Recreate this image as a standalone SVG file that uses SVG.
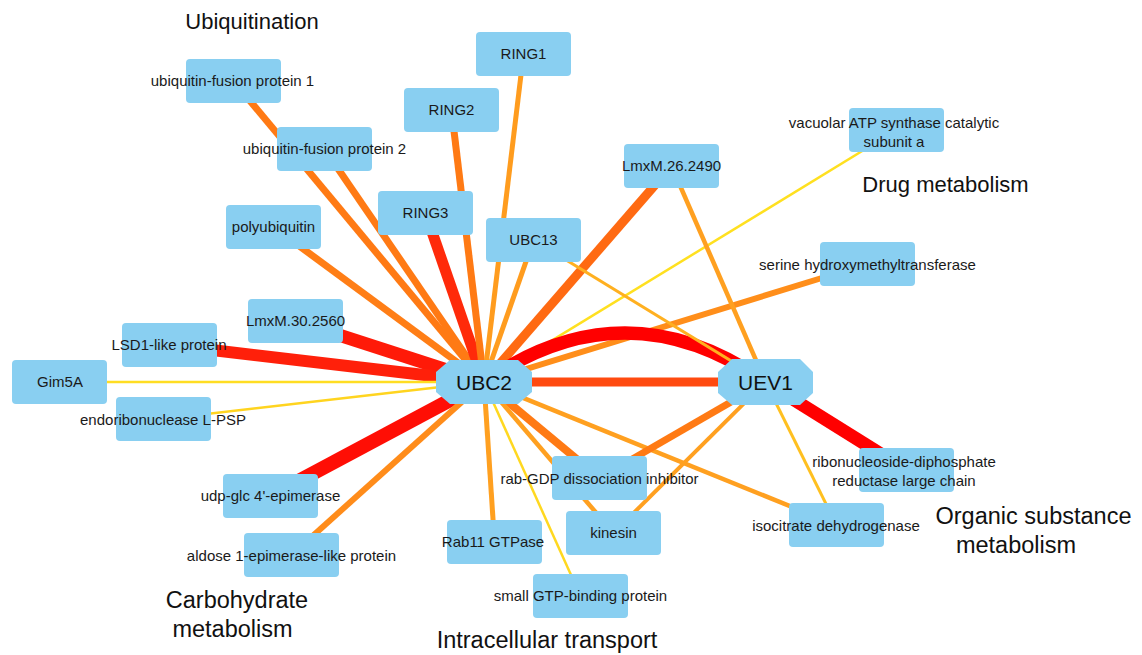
<svg xmlns="http://www.w3.org/2000/svg" width="1142" height="655" viewBox="0 0 1142 655">
  <style>
    .node rect, .node polygon { fill: #89CFF1; stroke: none; }
    .lbl { font-family: "Liberation Sans", Arial, sans-serif; font-size: 15px; fill: #1a1a1a; text-anchor: middle; }
    .hub { font-family: "Liberation Sans", Arial, sans-serif; font-size: 21px; fill: #111; text-anchor: middle; }
    .cat { font-family: "Liberation Sans", Arial, sans-serif; font-size: 23.5px; fill: #111; text-anchor: middle; }
    .cat.sm { font-size: 22px; }
    #edges line, #edges path { fill: none; stroke-linecap: butt; }
  </style>
  <rect width="1142" height="655" fill="#ffffff"/>

  <!-- interaction edges, drawn below the nodes -->
  <g id="edges">
    <!-- UBC2 partners -->
    <line x1="484" y1="382" x2="233.5" y2="81" stroke="#FF7A14" stroke-width="7"/>
    <line x1="484" y1="382" x2="324.5" y2="149" stroke="#FF7A14" stroke-width="7"/>
    <line x1="484" y1="382" x2="273.5" y2="227" stroke="#FF7E16" stroke-width="7"/>
    <line x1="484" y1="382" x2="425.5" y2="213" stroke="#FF2A0A" stroke-width="11"/>
    <line x1="484" y1="382" x2="451.5" y2="110" stroke="#FF7A14" stroke-width="7"/>
    <line x1="484" y1="382" x2="523.5" y2="54" stroke="#FF9C1E" stroke-width="5"/>
    <line x1="484" y1="382" x2="533.5" y2="240" stroke="#FF9C1E" stroke-width="5"/>
    <line x1="484" y1="382" x2="671.5" y2="166" stroke="#FF6A12" stroke-width="9"/>
    <line x1="484" y1="382" x2="896.5" y2="130" stroke="#FFE020" stroke-width="2.5"/>
    <line x1="484" y1="382" x2="867.5" y2="264" stroke="#FF8E1A" stroke-width="6"/>
    <line x1="484" y1="382" x2="295.5" y2="321" stroke="#FF1A08" stroke-width="13"/>
    <line x1="484" y1="382" x2="169.5" y2="345" stroke="#FF200A" stroke-width="12"/>
    <line x1="484" y1="382" x2="59.5" y2="382" stroke="#FFDD22" stroke-width="2.5"/>
    <line x1="484" y1="382" x2="163.5" y2="419" stroke="#FFD41F" stroke-width="2.5"/>
    <line x1="484" y1="382" x2="270.5" y2="496" stroke="#FF0E05" stroke-width="14"/>
    <line x1="484" y1="382" x2="291.5" y2="555" stroke="#FF8C1A" stroke-width="6"/>
    <line x1="484" y1="382" x2="494.5" y2="542" stroke="#FFA020" stroke-width="5"/>
    <line x1="484" y1="382" x2="580.5" y2="596" stroke="#FFD820" stroke-width="2.5"/>
    <line x1="484" y1="382" x2="599.5" y2="478" stroke="#FF7A14" stroke-width="8"/>
    <line x1="484" y1="382" x2="613.5" y2="533" stroke="#FFA020" stroke-width="4.5"/>
    <line x1="484" y1="382" x2="836.5" y2="525" stroke="#FFA020" stroke-width="4.5"/>
    <line x1="484" y1="382" x2="765.5" y2="382" stroke="#FF4A10" stroke-width="9"/>
    <path d="M484,382 Q625,284 765.5,382" stroke="#FF0000" stroke-width="13"/>
    <!-- UEV1 partners -->
    <line x1="765.5" y1="382" x2="671.5" y2="166" stroke="#FFA020" stroke-width="4.5"/>
    <line x1="765.5" y1="382" x2="533.5" y2="240" stroke="#FFB020" stroke-width="3"/>
    <line x1="765.5" y1="382" x2="906.5" y2="470" stroke="#FF0000" stroke-width="13"/>
    <line x1="765.5" y1="382" x2="836.5" y2="525" stroke="#FFC020" stroke-width="3"/>
    <line x1="765.5" y1="382" x2="599.5" y2="478" stroke="#FF7A14" stroke-width="7"/>
    <line x1="765.5" y1="382" x2="613.5" y2="533" stroke="#FFA020" stroke-width="4"/>
  </g>

  <!-- protein nodes -->
  <g id="n-uf1" class="node"><rect x="186" y="59" width="95" height="44" rx="4"/><text class="lbl" x="232.5" y="86">ubiquitin-fusion protein 1</text></g>
  <g id="n-uf2" class="node"><rect x="277" y="127" width="95" height="44" rx="4"/><text class="lbl" x="324.5" y="154">ubiquitin-fusion protein 2</text></g>
  <g id="n-polyub" class="node"><rect x="226" y="205" width="95" height="44" rx="4"/><text class="lbl" x="273.5" y="232">polyubiquitin</text></g>
  <g id="n-ring3" class="node"><rect x="378" y="191" width="95" height="44" rx="4"/><text class="lbl" x="425.5" y="218">RING3</text></g>
  <g id="n-ring2" class="node"><rect x="404" y="88" width="95" height="44" rx="4"/><text class="lbl" x="451.5" y="115">RING2</text></g>
  <g id="n-ring1" class="node"><rect x="476" y="32" width="95" height="44" rx="4"/><text class="lbl" x="523.5" y="59">RING1</text></g>
  <g id="n-ubc13" class="node"><rect x="486" y="218" width="95" height="44" rx="4"/><text class="lbl" x="533.5" y="245">UBC13</text></g>
  <g id="n-lmxm26" class="node"><rect x="624" y="144" width="95" height="44" rx="4"/><text class="lbl" x="671.5" y="171">LmxM.26.2490</text></g>
  <g id="n-vatp" class="node"><rect x="849" y="108" width="95" height="44" rx="4"/><text class="lbl" x="894" y="127.5">vacuolar ATP synthase catalytic</text><text class="lbl" x="894" y="146.5">subunit a</text></g>
  <g id="n-shmt" class="node"><rect x="820" y="242" width="95" height="44" rx="4"/><text class="lbl" x="867.5" y="270">serine hydroxymethyltransferase</text></g>
  <g id="n-lmxm30" class="node"><rect x="248" y="299" width="95" height="44" rx="4"/><text class="lbl" x="295.5" y="326">LmxM.30.2560</text></g>
  <g id="n-lsd1" class="node"><rect x="122" y="323" width="95" height="44" rx="4"/><text class="lbl" x="169" y="350">LSD1-like protein</text></g>
  <g id="n-gim5a" class="node"><rect x="12" y="360" width="95" height="44" rx="4"/><text class="lbl" x="60" y="387">Gim5A</text></g>
  <g id="n-lpsp" class="node"><rect x="116" y="397" width="95" height="44" rx="4"/><text class="lbl" x="163" y="425">endoribonuclease L-PSP</text></g>
  <g id="n-udp" class="node"><rect x="223" y="474" width="95" height="44" rx="4"/><text class="lbl" x="270.5" y="501">udp-glc 4'-epimerase</text></g>
  <g id="n-aldose" class="node"><rect x="244" y="533" width="95" height="44" rx="4"/><text class="lbl" x="291.5" y="561">aldose 1-epimerase-like protein</text></g>
  <g id="n-rab11" class="node"><rect x="447" y="520" width="95" height="44" rx="4"/><text class="lbl" x="493" y="547">Rab11 GTPase</text></g>
  <g id="n-rabgdi" class="node"><rect x="552" y="456" width="95" height="44" rx="4"/><text class="lbl" x="599.5" y="484">rab-GDP dissociation inhibitor</text></g>
  <g id="n-kinesin" class="node"><rect x="566" y="511" width="95" height="44" rx="4"/><text class="lbl" x="613.5" y="538">kinesin</text></g>
  <g id="n-sgtp" class="node"><rect x="533" y="574" width="95" height="44" rx="4"/><text class="lbl" x="580.5" y="601">small GTP-binding protein</text></g>
  <g id="n-rnr" class="node"><rect x="859" y="448" width="95" height="44" rx="4"/><text class="lbl" x="904" y="467">ribonucleoside-diphosphate</text><text class="lbl" x="904" y="485.5">reductase large chain</text></g>
  <g id="n-idh" class="node"><rect x="789" y="503" width="95" height="44" rx="4"/><text class="lbl" x="836" y="531">isocitrate dehydrogenase</text></g>

  <!-- hub nodes -->
  <g id="n-ubc2" class="node"><polygon points="450,360 518,360 532,372 532,392 518,404 450,404 436,392 436,372"/><text class="hub" x="484" y="389.5">UBC2</text></g>
  <g id="n-uev1" class="node"><polygon points="732,359 800,359 813,372 813,393 800,405 732,405 718,393 718,372"/><text class="hub" x="765.5" y="389.5">UEV1</text></g>

  <!-- functional category labels -->
  <g id="categories">
    <text class="cat sm" x="252" y="29">Ubiquitination</text>
    <text class="cat sm" x="945.5" y="192">Drug metabolism</text>
    <text class="cat" x="1033.5" y="524">Organic substance</text>
    <text class="cat" x="1016" y="553">metabolism</text>
    <text class="cat" x="237" y="608">Carbohydrate</text>
    <text class="cat" x="232.5" y="637">metabolism</text>
    <text class="cat" x="547" y="648">Intracellular transport</text>
  </g>
</svg>
